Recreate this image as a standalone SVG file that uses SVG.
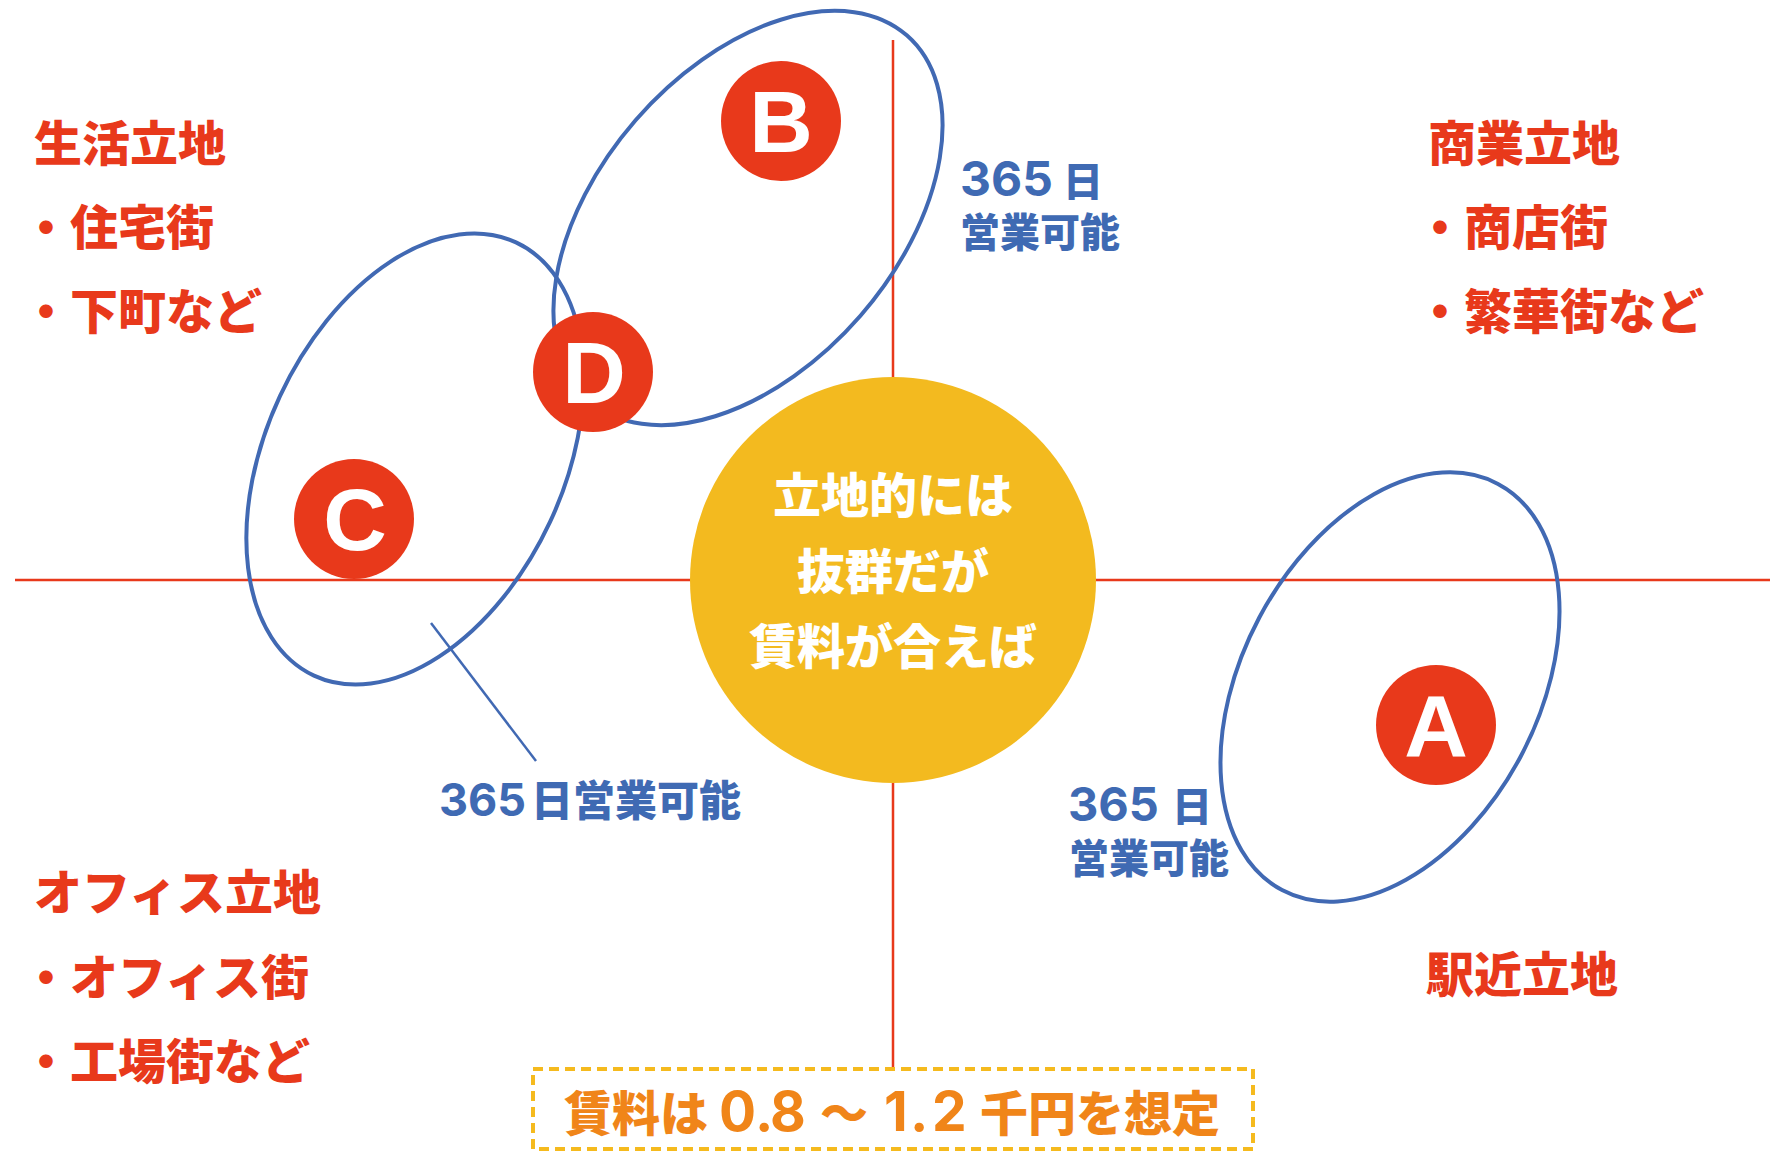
<svg xmlns="http://www.w3.org/2000/svg" width="1774" height="1152" viewBox="0 0 1774 1152">
  <style>
    .axis { stroke: #E8391B; stroke-width: 2.5; fill: none; }
    .ring { fill: none; stroke: #4169B3; stroke-width: 4; }
    .leader { stroke: #4169B3; stroke-width: 2.5; fill: none; }
    .badge { fill: #E8391B; }
    .letter { font-family: "Liberation Sans", Arial, sans-serif; font-weight: 700; font-size: 88px; fill: #FFFFFF; text-anchor: middle; }
    .jp { font-family: "Noto Sans CJK JP", "Noto Sans", sans-serif; font-weight: 900; }
    .quad { font-size: 48px; fill: #E8391B; }
    .blue { fill: #3F6AB3; }
    .num { font-family: Inter, "Liberation Sans", sans-serif; font-weight: 700; }
    .center-text { font-size: 48px; fill: #FFFFFF; text-anchor: middle; }
    .note { fill: #F08519; }
  </style>

  <rect width="1774" height="1152" fill="#FFFFFF"/>

  <g id="connectors">
    <line class="axis" x1="15" y1="580" x2="1770" y2="580"/>
    <line class="axis" x1="893" y1="40" x2="893" y2="1069"/>
    <line class="leader" x1="431" y1="623" x2="536" y2="761"/>
  </g>

  <g id="ellipse-B">
    <ellipse class="ring" cx="748" cy="218" rx="242" ry="149" transform="rotate(-49 748 218)"/>
  </g>
  <g id="ellipse-C">
    <ellipse class="ring" cx="415" cy="459" rx="239" ry="149" transform="rotate(-65 415 459)"/>
  </g>
  <g id="ellipse-A">
    <ellipse class="ring" cx="1390" cy="687" rx="230" ry="148" transform="rotate(-62 1390 687)"/>
  </g>

  <g id="center-node">
    <circle cx="893" cy="580" r="203" fill="#F3BA1F"/>
    <text class="jp center-text" x="893" y="513">立地的には</text>
    <text class="jp center-text" x="893" y="589">抜群だが</text>
    <text class="jp center-text" x="893" y="664">賃料が合えば</text>
  </g>

  <g id="node-B">
    <circle class="badge" cx="781" cy="121" r="60"/>
    <text class="letter" x="781" y="152">B</text>
  </g>
  <g id="node-D">
    <circle class="badge" cx="593" cy="372" r="60"/>
    <text class="letter" x="594" y="403">D</text>
  </g>
  <g id="node-C">
    <circle class="badge" cx="354" cy="519" r="60"/>
    <text class="letter" x="355" y="550">C</text>
  </g>
  <g id="node-A">
    <circle class="badge" cx="1436" cy="725" r="60"/>
    <text class="letter" x="1436" y="756">A</text>
  </g>

  <g id="label-B">
    <text class="blue" y="196"><tspan class="num" x="960" font-size="48">365</tspan><tspan class="jp" x="1063" font-size="40">日</tspan></text>
    <text class="jp blue" x="960" y="247" font-size="40">営業可能</text>
  </g>
  <g id="label-A">
    <text class="blue" y="821"><tspan class="num" x="1068" font-size="47">365</tspan><tspan class="jp" x="1172" font-size="40">日</tspan></text>
    <text class="jp blue" x="1069" y="873" font-size="40">営業可能</text>
  </g>
  <g id="label-C">
    <text class="blue" y="816"><tspan class="num" x="439" font-size="45">365</tspan><tspan class="jp" x="531" font-size="42">日営業可能</tspan></text>
  </g>

  <g id="quadrant-living">
    <text class="jp quad" x="34" y="161">生活立地</text>
    <text class="jp quad" x="22" y="245">・住宅街</text>
    <text class="jp quad" x="22" y="329">・下町など</text>
  </g>
  <g id="quadrant-commercial">
    <text class="jp quad" x="1428" y="161">商業立地</text>
    <text class="jp quad" x="1416" y="245">・商店街</text>
    <text class="jp quad" x="1416" y="329">・繁華街など</text>
  </g>
  <g id="quadrant-office">
    <text class="jp quad" x="34" y="910">オフィス立地</text>
    <text class="jp quad" x="22" y="995">・オフィス街</text>
    <text class="jp quad" x="22" y="1079">・工場街など</text>
  </g>
  <g id="quadrant-station">
    <text class="jp quad" x="1426" y="992">駅近立地</text>
  </g>

  <g id="rent-note">
    <rect x="533" y="1069" width="720" height="80" fill="#FFFFFF" stroke="#F5BA1E" stroke-width="4" stroke-dasharray="10 6"/>
    <text class="note" y="1131"><tspan class="jp" x="564" font-size="48">賃料は</tspan><tspan class="num" x="719 755 770" font-size="55">0.8</tspan><tspan class="jp" x="820" font-size="48">〜</tspan><tspan class="num" x="884 910 932" font-size="55">1.2</tspan><tspan class="jp" x="980" font-size="48">千円を想定</tspan></text>
  </g>
</svg>
